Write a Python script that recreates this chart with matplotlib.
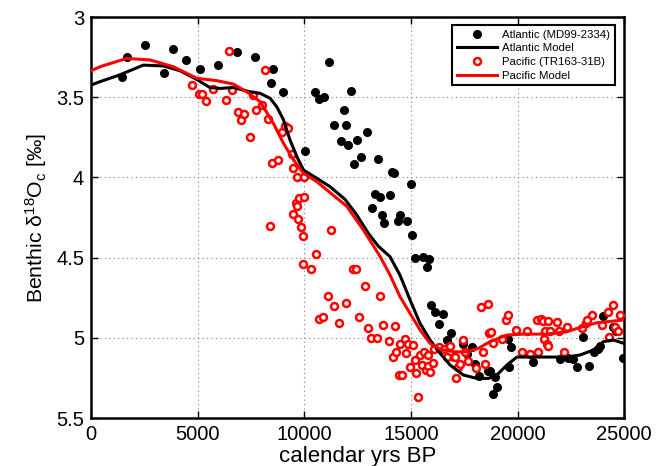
import numpy as np
import matplotlib
matplotlib.use('Agg')
import matplotlib.pyplot as plt

plt.rcParams['font.family'] = ['Liberation Sans', 'DejaVu Sans']
plt.rcParams['mathtext.fontset'] = 'custom'
plt.rcParams['mathtext.rm'] = 'Liberation Sans'
plt.rcParams['mathtext.it'] = 'Liberation Sans'

# Atlantic core MD99-2334 (calendar yrs BP, benthic d18O)
atl_x = [1470, 1670, 2550, 3410, 3830, 4470, 5130, 5970, 6850, 7710, 8460, 8550,
         8990, 10050, 10510, 10710, 10930, 11150, 11370, 11740, 11880, 11970, 12050,
         12200, 12350, 12490, 12650, 12950, 13190, 13320, 13450, 13560, 13650, 13740,
         14020, 14120, 14230, 14410, 14510, 14810, 14990, 15070, 15180, 15560, 15750,
         15850, 15930, 16120, 16320, 16510, 16680, 16890, 17030, 17460, 17620, 17860,
         18010, 18200, 18610, 18710, 18860, 18960, 19060, 19560, 19620, 19710, 20720,
         22000, 22390, 22580, 22800, 23090, 23370, 23610, 23760, 23870, 24030, 24470,
         24620, 24950]
atl_y = [3.376, 3.25, 3.175, 3.35, 3.20, 3.27, 3.326, 3.30, 3.22, 3.25, 3.41, 3.326,
         3.466, 3.837, 3.466, 3.513, 3.499, 3.28, 3.675, 3.773, 3.58, 3.675, 3.796,
         3.463, 3.914, 3.769, 3.873, 3.72, 4.19, 4.105, 3.883, 4.12, 4.234, 4.284,
         4.108, 3.964, 3.975, 4.274, 4.234, 4.27, 4.04, 4.357, 4.50, 4.494, 4.56,
         4.507, 4.796, 4.837, 4.912, 4.853, 5.014, 4.968, 5.118, 5.04, 5.10, 5.06,
         5.163, 5.236, 5.205, 5.21, 5.35, 5.246, 5.305, 5.006, 5.184, 5.06, 5.149,
         5.132, 5.128, 5.132, 5.18, 4.993, 5.174, 5.087, 5.068, 5.05, 4.862, 4.93,
         4.96, 5.128]

# Pacific core TR163-31B
pac_x = [4720, 5050, 5220, 5390, 5720, 6320, 6470, 6610, 6880, 7020, 7160, 7460,
         7580, 7720, 8020, 8150, 8290, 8410, 8500, 8760, 8970, 9080, 9240, 9410,
         9460, 9490, 9600, 9650, 9650, 9720, 9740, 9860, 9930, 9940, 9980, 10000,
         10320, 10570, 10710, 10870, 11130, 11270, 11400, 11650, 11970, 12300, 12430,
         12570, 12840, 12980, 13120, 13430, 13570, 13710, 13990, 14180, 14240, 14320,
         14450, 14490, 14590, 14710, 14760, 14880, 14950, 15090, 15200, 15260, 15340,
         15450, 15540, 15630, 15730, 15780, 15810, 15890, 16020, 16100, 16320, 16570,
         16700, 16850, 17070, 17130, 17210, 17320, 17460, 17560, 17700, 18060, 18280,
         18370, 18480, 18630, 18680, 18760, 18870, 19280, 19480, 19570, 19950, 20190,
         20440, 20580, 20930, 20980, 21090, 21180, 21260, 21280, 21390, 21440, 21450,
         21540, 21870, 21950, 22190, 22310, 23020, 23200, 23280, 23500, 23980, 24250,
         24310, 24470, 24560, 24730, 24810]
pac_y = [3.424, 3.48, 3.48, 3.524, 3.447, 3.52, 3.214, 3.455, 3.59, 3.642, 3.603, 3.75,
         3.486, 3.58, 3.55, 3.332, 3.634, 4.30, 3.91, 3.89, 3.72, 3.68, 3.69, 3.854,
         3.94, 4.23, 4.16, 4.0, 4.18, 4.26, 4.13, 4.31, 4.363, 4.54, 4.0, 4.12,
         4.57, 4.48, 4.88, 4.87, 4.74, 4.33, 4.80, 4.91, 4.78, 4.57, 4.57,
         4.87, 4.68, 4.94, 5.0, 5.0, 4.74, 4.92, 5.02, 5.12, 4.926, 5.09,
         5.23, 5.04, 5.23, 5.01, 5.097, 5.04, 5.18, 5.047, 5.14, 5.22, 5.37,
         5.11, 5.168, 5.09, 5.2, 5.107, 5.174, 5.215, 5.157, 5.07, 5.06, 5.07,
         5.118, 5.05, 5.118, 5.25, 5.18, 5.165, 5.014, 5.087, 5.147, 5.19, 4.808,
         5.09, 5.165, 4.79, 4.968, 4.966, 5.03, 5.01, 4.89, 4.858, 4.95, 5.087,
         4.96, 5.1, 4.89, 5.087, 4.88, 4.895, 5.01, 4.956, 5.04, 5.05, 4.897,
         4.956, 4.9, 4.96, 5.087, 4.93, 4.94, 4.91, 4.89, 4.858, 4.92, 4.84,
         4.997, 4.797, 4.93, 4.96, 4.858]

# model curves
atl_model_x = [0, 420, 1360, 2450, 3390, 4170, 4960, 5580, 6050, 6670, 7460, 7930,
               8400, 8710, 9020, 9330, 9650, 9960, 10590, 11210, 11910, 12460, 13010,
               13480, 14020, 14490, 14960, 15430, 15900, 16370, 16840, 17460, 18090,
               18630, 19030, 19500, 19970, 21060, 22310, 22940, 23560, 24030, 24500, 25000]
atl_model_y = [3.424, 3.403, 3.36, 3.30, 3.305, 3.335, 3.39, 3.44, 3.445, 3.44, 3.466, 3.476,
               3.507, 3.56, 3.64, 3.767, 3.87, 3.954, 4.006, 4.058, 4.137, 4.234, 4.35,
               4.43, 4.494, 4.61, 4.764, 4.91, 5.014, 5.097, 5.17, 5.232, 5.253,
               5.253, 5.232, 5.17, 5.12, 5.12, 5.12, 5.107, 5.076, 5.024, 5.014, 5.035]

pac_model_x = [0, 420, 1670, 2770, 3860, 4960, 5900, 6670, 7300, 7930, 8550, 9020,
               9490, 9960, 10590, 11210, 11990, 12770, 13560, 14020, 14490, 14960, 15430,
               15900, 16370, 16990, 17620, 18160, 18710, 19500, 20280, 21370, 22310,
               22940, 23720, 25000]
pac_model_y = [3.335, 3.31, 3.258, 3.268, 3.31, 3.382, 3.397, 3.418, 3.466, 3.528, 3.663, 3.787,
               3.89, 3.974, 4.027, 4.095, 4.18, 4.328, 4.494, 4.608, 4.744, 4.848, 4.951,
               5.035, 5.071, 5.087, 5.088, 5.066, 5.024, 4.983, 4.977, 4.977, 4.962,
               4.935, 4.906, 4.889]

fig = plt.figure(figsize=(6.65, 4.66), dpi=100)
ax = fig.add_axes([0.137, 0.103, 0.8015, 0.8605])

ax.plot(atl_x, atl_y, 'o', color='black', markersize=5.5, label='Atlantic (MD99-2334)', zorder=3)
ax.plot(atl_model_x, atl_model_y, '-', color='black', linewidth=2.2, label='Atlantic Model', zorder=4)
ax.plot(pac_x, pac_y, 'o', color='red', markerfacecolor='white', markeredgewidth=1.8,
        markersize=5, label='Pacific (TR163-31B)', zorder=3)
ax.plot(pac_model_x, pac_model_y, '-', color='red', linewidth=2.2, label='Pacific Model', zorder=4)

ax.set_xlim(0, 25000)
ax.set_ylim(5.5, 3)
ax.set_xticks([0, 5000, 10000, 15000, 20000, 25000])
ax.set_yticks([3, 3.5, 4, 4.5, 5, 5.5])
ax.set_yticklabels(['3', '3.5', '4', '4.5', '5', '5.5'])
ax.grid(True, linestyle=(0, (1, 3)), color='gray', linewidth=0.8)
ax.tick_params(direction='in', top=True, right=True, length=5, width=1, labelsize=14.5, pad=5)
for s in ax.spines.values():
    s.set_linewidth(1.8)

ax.set_xlabel('calendar yrs BP', fontsize=16, labelpad=1.5)
ax.set_ylabel(r'Benthic δ$^{\rm 18}$O$_{\rm c}$ [‰]', fontsize=15.3, labelpad=5)

leg = ax.legend(loc='upper right', bbox_to_anchor=(0.983, 0.98), borderaxespad=0,
                fontsize=8.2, fancybox=False, framealpha=1, edgecolor='black',
                handlelength=3.5, labelspacing=0.32, borderpad=0.4, handletextpad=0.5)
leg.get_frame().set_linewidth(1.5)

fig.savefig('out.png', dpi=100)
